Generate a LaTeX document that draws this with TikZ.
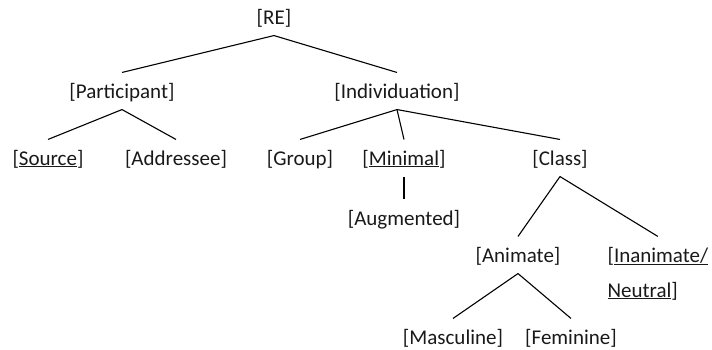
\documentclass[tikz,border=0pt]{standalone}
\usepackage{fontspec}
\setmainfont{Carlito}

\begin{document}
\begin{tikzpicture}[x=1pt,y=-1pt,line width=1.1pt]
\tikzstyle{every node}=[inner xsep=2pt, inner ysep=6pt, text height=19pt, text depth=5pt, anchor=base, text=black!90, font=\fontsize{21}{35}\selectfont]
\useasboundingbox (0,0) rectangle (712,349);
\draw (274,24) node (re) {[RE]};
\draw (122,98) node (part) {[Participant]};
\draw (397,98) node (indiv) {[Individuation]};
\draw (48,165) node (src) {[\underline{Source}]};
\draw (176,165) node (addr) {[Addressee]};
\draw (300,165) node (grp) {[Group]};
\draw (404,165) node (mini) {[\underline{Minimal}]};
\draw (560,165) node (cls) {[Class]};
\draw (404,225) node (augm) {[Augmented]};
\draw (518,262) node (anim) {[Animate]};
% two lines: base is the lower line, so the height covers both
\draw (605,297) node (inan) [anchor=base west, align=left, text height=54pt] {[\underline{Inanimate/}\\\underline{Neutral}]};
\draw (453,344) node (masc) {[Masculine]};
\draw (571,344) node (fem) {[Feminine]};
\draw (re.south) -- (part.north);
\draw (re.south) -- (indiv.north);
\draw (part.south) -- (src.north);
\draw (part.south) -- (addr.north);
\draw (indiv.south) -- (grp.north);
\draw (indiv.south) -- (mini.north);
\draw (indiv.south) -- (cls.north);
\draw (mini.south) -- (augm.north);
\draw (cls.south) -- (anim.north);
\draw (cls.south) -- (inan.north);
\draw (anim.south) -- (masc.north);
\draw (anim.south) -- (fem.north);
\end{tikzpicture}
\end{document}
